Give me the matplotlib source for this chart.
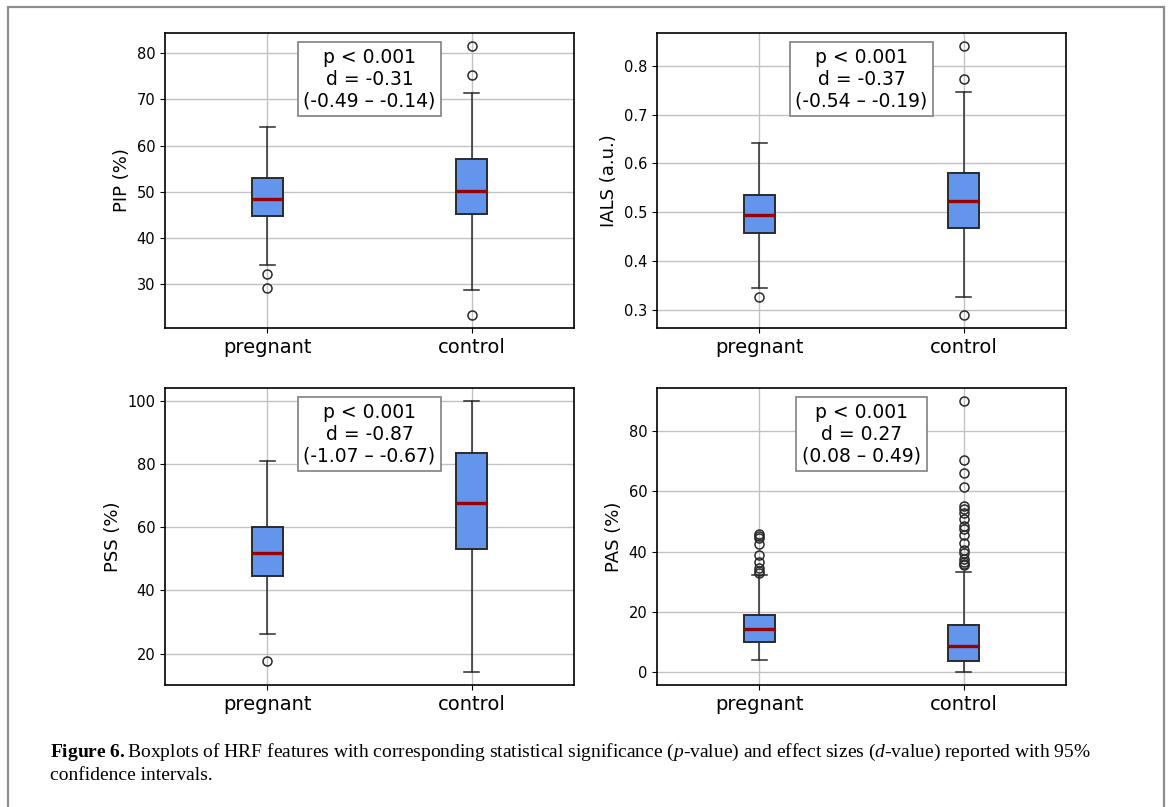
import matplotlib
matplotlib.use("Agg")
import matplotlib.pyplot as plt
from matplotlib.patches import Rectangle

plt.rcParams['mathtext.fontset'] = 'custom'
plt.rcParams['mathtext.rm'] = 'Liberation Serif'
plt.rcParams['mathtext.it'] = 'Liberation Serif:italic'
plt.rcParams['mathtext.bf'] = 'Liberation Serif:bold'

groups = ["pregnant", "control"]

# PIP (%)
pip_pregnant = dict(whislo=34.2, q1=44.8, med=48.5, q3=53.0, whishi=64.0, fliers=[32.3, 29.1])
pip_control = dict(whislo=28.8, q1=45.3, med=50.2, q3=57.2, whishi=71.3, fliers=[75.4, 81.5, 23.4])

# IALS (a.u.)
ials_pregnant = dict(whislo=0.345, q1=0.458, med=0.495, q3=0.536, whishi=0.642, fliers=[0.327])
ials_control = dict(whislo=0.327, q1=0.467, med=0.522, q3=0.581, whishi=0.747, fliers=[0.773, 0.840, 0.290])

# PSS (%)
pss_pregnant = dict(whislo=26.2, q1=44.5, med=51.8, q3=60.2, whishi=81.0, fliers=[17.5])
pss_control = dict(whislo=14.3, q1=53.0, med=67.8, q3=83.5, whishi=99.8, fliers=[])

# PAS (%)
pas_pregnant = dict(whislo=3.8, q1=9.8, med=14.2, q3=19.0, whishi=32.2,
                    fliers=[33.0, 33.5, 34.5, 36.5, 39.0, 42.5, 44.5, 45.3, 45.7])
pas_control = dict(whislo=0.0, q1=3.5, med=8.5, q3=15.5, whishi=33.3,
                   fliers=[35.5, 36.0, 36.5, 37.5, 39.5, 40.5, 43.0, 45.5, 47.5, 48.5,
                           51.0, 53.0, 54.0, 55.0, 61.5, 66.0, 70.5, 90.0])

ylabels = ["PIP (%)", "IALS (a.u.)", "PSS (%)", "PAS (%)"]
stats_texts = [
    "p < 0.001\nd = -0.31\n(-0.49 \u2013 -0.14)",
    "p < 0.001\nd = -0.37\n(-0.54 \u2013 -0.19)",
    "p < 0.001\nd = -0.87\n(-1.07 \u2013 -0.67)",
    "p < 0.001\nd = 0.27\n(0.08 \u2013 0.49)",
]
all_stats = [
    (pip_pregnant, pip_control),
    (ials_pregnant, ials_control),
    (pss_pregnant, pss_control),
    (pas_pregnant, pas_control),
]

fig = plt.figure(figsize=(11.71, 8.07), dpi=100)
W, H = 1171, 807

# gray frame around the figure
fig.patches.append(Rectangle((8 / W, -0.05), (1164 - 8) / W, 1.05 - 7 / H,
                             transform=fig.transFigure, fill=False,
                             edgecolor='#8c8c8c', linewidth=1.6))

# axes positions in pixels: left, top, right, bottom
boxes_px = [(165, 33, 574, 328), (657, 33, 1066, 328),
            (165, 388, 574, 685), (657, 388, 1066, 685)]

for i, (l, t, r, b) in enumerate(boxes_px):
    ax = fig.add_axes([l / W, 1 - b / H, (r - l) / W, (b - t) / H])
    s1, s2 = all_stats[i]
    ax.bxp([s1, s2], positions=[1, 2], patch_artist=True, showfliers=True,
           boxprops=dict(facecolor='#6495ED', edgecolor='#2b2b2b', linewidth=1.4),
           medianprops=dict(color='#990000', linewidth=2.4),
           whiskerprops=dict(color='#2b2b2b', linewidth=1.1),
           capprops=dict(color='#2b2b2b', linewidth=1.1),
           flierprops=dict(marker='o', markerfacecolor='none', markeredgecolor='#2b2b2b',
                           markersize=6.5, markeredgewidth=1.1))
    ax.set_xticks([1, 2])
    ax.set_xticklabels(groups, fontsize=14)
    ax.tick_params(axis='y', labelsize=10.5)
    ax.set_ylabel(ylabels[i], fontsize=13)
    ax.grid(True, color='#c2c2c2', linewidth=1.0)
    ax.set_axisbelow(True)
    for sp in ax.spines.values():
        sp.set_linewidth(1.2)
    ax.text(0.5, 0.95, stats_texts[i], transform=ax.transAxes, ha='center', va='top',
            fontsize=13.5, multialignment='center',
            bbox=dict(boxstyle='square,pad=0.3', facecolor='white', edgecolor='#808080',
                      linewidth=1.2))

caption1 = (r"$\mathbf{Figure\ 6.}$Boxplots of HRF features with corresponding statistical "
            r"significance ($\mathit{p}$-value) and effect sizes ($\mathit{d}$-value) reported with 95%")
caption2 = "confidence intervals."
fig.text(50 / W, 1 - 752 / H, caption1, family='Liberation Serif', fontsize=14, va='center')
fig.text(50 / W, 1 - 776 / H, caption2, family='Liberation Serif', fontsize=14, va='center')

fig.savefig("out.png", dpi=100)
